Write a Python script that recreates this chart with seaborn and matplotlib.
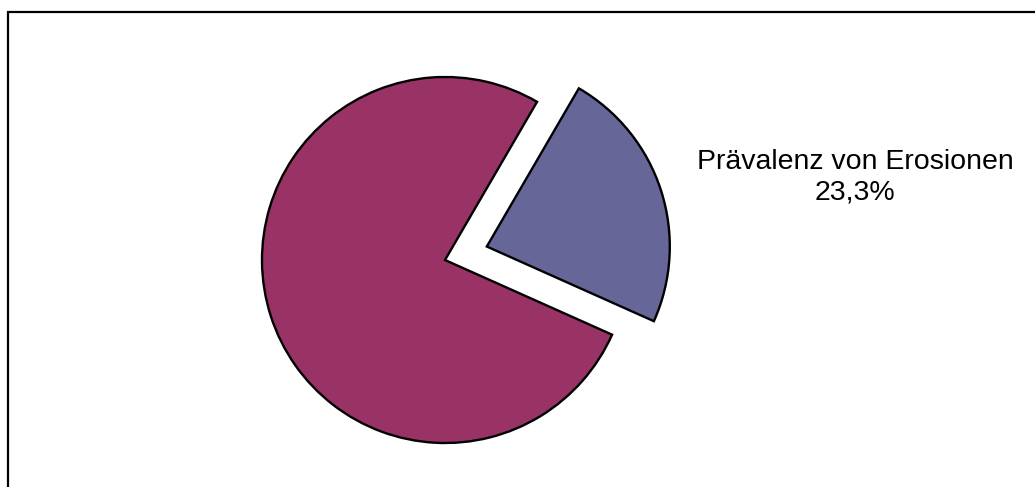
import matplotlib
matplotlib.use("Agg")
import matplotlib.pyplot as plt
import matplotlib.patches as mpatches
import seaborn as sns

# datos del gráfico
kategorien = ["Prävalenz von Erosionen", "keine Erosionen"]
anteile = [23.3, 76.7]
farben = ["#666699", "#993366"]
explode = [0.24, 0.0]

sns.set_theme(style="white")
plt.rcParams['font.family'] = ['Liberation Sans', 'DejaVu Sans']

W, H = 1035, 487
fig = plt.figure(figsize=(W / 100, H / 100), dpi=100)
fig.patch.set_facecolor("white")

# centro y radio del pastel en pixeles
cx, cy, r = 445, 260, 183
ax = fig.add_axes([(cx - r) / W, (H - cy - r) / H, 2 * r / W, 2 * r / H])
ax.pie(anteile, colors=farben, explode=explode, startangle=59.8,
       counterclock=False, radius=1.0,
       wedgeprops=dict(edgecolor="black", linewidth=1.7))
ax.set_xlim(-1, 1)
ax.set_ylim(-1, 1)
ax.set_aspect("auto")
ax.axis("off")

# etiqueta de la porción destacada
txt = f"{kategorien[0]}\n{anteile[0]:.1f}%".replace(".", ",")
fig.text(855 / W, 1 - 177 / H, txt, ha="center", va="center",
         multialignment="center", fontsize=20.5, color="black", linespacing=1.22)

# marco exterior
rect = mpatches.Rectangle((8 / W, -0.1), 1.2, 1 - 12 / H + 0.1,
                          transform=fig.transFigure, fill=False,
                          edgecolor="black", linewidth=1.6)
fig.patches.append(rect)

fig.savefig("out.png", dpi=100, facecolor="white")
